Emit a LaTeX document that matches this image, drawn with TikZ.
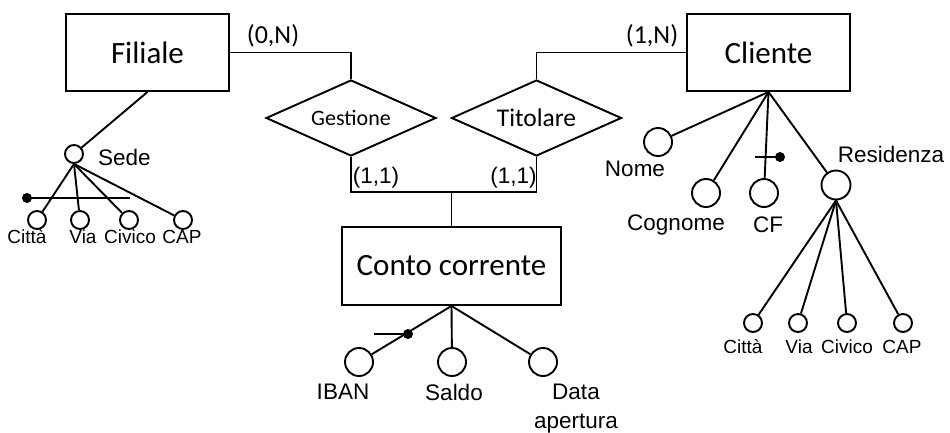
\documentclass[tikz,border=0pt]{standalone}
\usepackage{fontspec}
\setmainfont{Carlito}
\newfontfamily\arialf{Liberation Sans}
\usetikzlibrary{shapes.geometric}

\tikzset{
  ln/.style={line width=1.9pt},
  entity/.style={draw, line width=1.9pt, rectangle, inner sep=0pt},
  relation/.style={draw, line width=1.9pt, diamond, aspect=2.24, inner sep=0pt,
                   minimum width=170pt, minimum height=76pt},
  attr/.style={draw, line width=1.9pt, circle, inner sep=0pt, minimum size=28pt},
  subattr/.style={draw, line width=1.9pt, circle, inner sep=0pt, minimum size=18pt},
  iddot/.style={fill, circle, inner sep=0pt, minimum size=10pt},
  lbl/.style={inner sep=0pt, font=\arialf\fontsize{22.5}{27}\selectfont},
  slbl/.style={inner sep=0pt, font=\arialf\fontsize{19}{23}\selectfont},
  card/.style={inner sep=0pt, font=\fontsize{26}{30}\selectfont},
}

\begin{document}
\begin{tikzpicture}[x=1pt,y=-1pt]
\useasboundingbox[fill=white] (0,0) rectangle (950,432);

% entities
\node[entity, minimum width=163pt, minimum height=77pt, font=\fontsize{31}{36}\selectfont]
  (fil) at (147.5,52.5) {Filiale};
\node[entity, minimum width=163pt, minimum height=77pt, font=\fontsize{31}{36}\selectfont]
  (cli) at (768.5,52.5) {Cliente};
\node[entity, minimum width=219pt, minimum height=78pt, font=\fontsize{31}{36}\selectfont]
  (cc) at (451.5,266) {Conto corrente};

% relationships
\node[relation, font=\fontsize{22}{26}\selectfont] (gest) at (351,118) {Gestione};
\node[relation, font=\fontsize{25.5}{30}\selectfont] (tit) at (536.5,118) {Titolare};

% relationship links
\draw[ln] (fil.east) -| (gest.north);
\draw[ln] (tit.north) |- (cli.west);
\coordinate (jn) at (451.5,192);
\draw[ln] (gest.south) |- (jn) -| (tit.south);
\draw[ln] (jn) -- (cc.north);

% cardinalities
\node[card] (c0n) at (273,36) {(0,N)};
\node[card] (c1n) at (652,36) {(1,N)};
\node[lbl] (c11a) at (376,178) {(1,1)};
\node[lbl] (c11b) at (513.5,178) {(1,1)};

% Filiale: composite attribute Sede
\node[subattr] (sede) at (74,154) {};
\node[lbl, anchor=west] (sedel) at (98,157) {Sede};
\draw[ln] (fil.south) -- (sede);
\node[subattr] (sc1) at (37,220) {};
\node[subattr] (sc2) at (80,220) {};
\node[subattr] (sc3) at (129,220) {};
\node[subattr] (sc4) at (183,220) {};
\foreach \n in {sc1,sc2,sc3,sc4} \draw[ln] (sede.south) -- (\n);
\node[slbl] (sl1) at (27,237) {Città};
\node[slbl] (sl2) at (83,237) {Via};
\node[slbl] (sl3) at (130,237) {Civico};
\node[slbl] (sl4) at (182,237) {CAP};
\node[iddot] (sdot) at (27,198) {};
\coordinate (sbar) at (130,198);
\draw[ln] (sdot.center) -- (sbar);

% Cliente attributes
\node[attr] (nome) at (658,142) {};
\node[attr] (cogn) at (706,193) {};
\node[attr] (cf) at (764,193) {};
\node[attr, minimum size=29pt] (res) at (836,185) {};
\foreach \n in {nome,cogn,cf,res} \draw[ln] (cli.south) -- (\n);
\node[lbl] (nomel) at (635,169) {Nome};
\node[lbl] (cognl) at (676,225) {Cognome};
\node[lbl] (cfl) at (768,224.5) {CF};
\node[lbl] (resl) at (891,154) {Residenza};
\node[iddot] (cfdot) at (780,157) {};
\coordinate (cfbar) at (755,157);
\draw[ln] (cfbar) -- (cfdot.center);

% Residenza sub-attributes
\node[subattr] (rc1) at (753,323) {};
\node[subattr] (rc2) at (798,323) {};
\node[subattr] (rc3) at (847,323) {};
\node[subattr] (rc4) at (903,323) {};
\foreach \n in {rc1,rc2,rc3,rc4} \draw[ln] (res.south) -- (\n);
\node[slbl] (rl1) at (743,347) {Città};
\node[slbl] (rl2) at (799,347) {Via};
\node[slbl] (rl3) at (847,347) {Civico};
\node[slbl] (rl4) at (902,347) {CAP};

% Conto corrente attributes
\node[attr] (iban) at (359,362) {};
\node[attr] (saldo) at (452,362) {};
\node[attr] (data) at (543,362) {};
\foreach \n in {iban,saldo,data} \draw[ln] (cc.south) -- (\n);
\node[lbl] (ibanl) at (343,392) {IBAN};
\node[lbl] (saldol) at (454,392) {Saldo};
\node[lbl, align=center, anchor=north, font=\arialf\fontsize{22.5}{29}\selectfont]
  (datal) at (576,384) {Data\\apertura};
\node[iddot] (ibandot) at (408,334) {};
\coordinate (ibanbar) at (374,334);
\draw[ln] (ibanbar) -- (ibandot.center);
\end{tikzpicture}
\end{document}
